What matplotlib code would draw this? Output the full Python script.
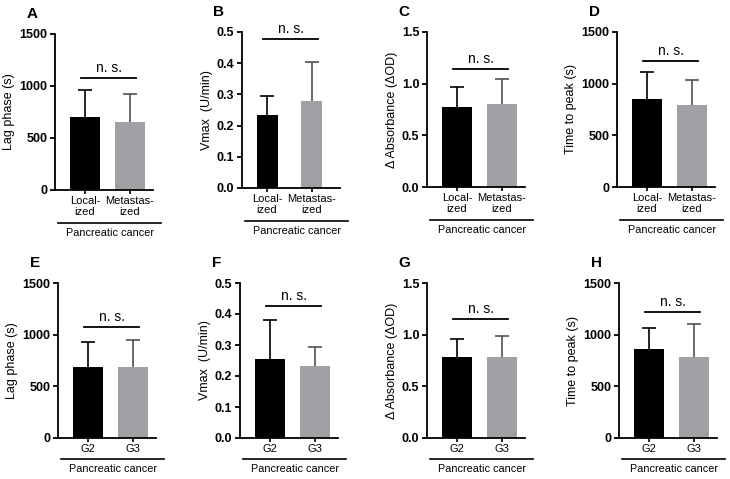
import matplotlib
matplotlib.use("Agg")
import matplotlib.pyplot as plt
from matplotlib.ticker import FormatStrFormatter

plt.rcParams['font.family'] = ['Liberation Sans', 'DejaVu Sans']

# data
letters = ["A", "B", "C", "D", "E", "F", "G", "H"]
ylabels = ["Lag phase (s)", "Vmax  (U/min)", "\u0394 Absorbance (\u0394OD)", "Time to peak (s)"] * 2
groups_top = ["Local-\nized", "Metastas-\nized"]
groups_bot = ["G2", "G3"]
group_title = "Pancreatic cancer"

means = [
    [700, 655], [0.233, 0.278], [0.77, 0.80], [854, 793],
    [687, 684], [0.256, 0.232], [0.787, 0.785], [861, 781],
]
errs = [
    [265, 270], [0.062, 0.125], [0.195, 0.245], [256, 242],
    [244, 264], [0.125, 0.061], [0.167, 0.198], [202, 321],
]
ymax = [1500, 0.5, 1.5, 1500] * 2
ystep = [500, 0.1, 0.5, 500] * 2
yfmt = ["%d", "%.1f", "%.1f", "%d"] * 2
sig_y = [1077, 0.477, 1.142, 1219, 1076, 0.426, 1.147, 1220]

colors = ["black", "#a0a0a4"]
err_colors = ["black", "#505050"]

W, H = 730, 479
fig = plt.figure(figsize=(7.3, 4.79), dpi=100)

# axes placement in pixels: y-axis x, top, bottom
lefts = [55, 242, 427, 617, 58, 240, 427, 619]
tops = [34, 32, 32, 32, 283, 283, 283, 283]
bottoms = [190, 188, 187, 187, 438, 438, 438, 438]
axis_len = 98
spacing = 44.5

for i in range(8):
    l, t, b = lefts[i], tops[i], bottoms[i]
    ax = fig.add_axes([l / W, 1 - b / H, axis_len / W, (b - t) / H])
    offset = 25 if i == 1 else 30
    width = 21 / spacing if i == 1 else 30 / spacing
    ax.set_xlim(-offset / spacing, (axis_len - offset) / spacing)
    ax.set_ylim(0, ymax[i])

    for j in range(2):
        ax.bar(j, means[i][j], width=width, color=colors[j], zorder=2)
        eb = ax.errorbar(j, means[i][j], yerr=[[0], [errs[i][j]]], color=err_colors[j],
                         capsize=5, elinewidth=1.2, capthick=1.2, zorder=1)
        eb[1][0].set_visible(False)  # no lower cap

    # significance bar
    ax.plot([-0.08, 1.15], [sig_y[i], sig_y[i]], color="black", lw=1.3, clip_on=False)
    ax.text(0.53, sig_y[i] + ymax[i] * 0.02, "n. s.", ha="center", va="bottom", fontsize=10)

    for s in ["top", "right"]:
        ax.spines[s].set_visible(False)
    for s in ["left", "bottom"]:
        ax.spines[s].set_linewidth(1.3)

    ax.set_yticks([k * ystep[i] for k in range(int(round(ymax[i] / ystep[i])) + 1)])
    ax.yaxis.set_major_formatter(FormatStrFormatter(yfmt[i]))
    ax.tick_params(axis="y", length=3.5, width=1.3, labelsize=9, pad=2)
    for lab in ax.get_yticklabels():
        lab.set_fontweight("bold")
    ax.set_xticks([0, 1])
    ax.set_xticklabels(groups_top if i < 4 else groups_bot, fontsize=8, linespacing=1.05)
    ax.tick_params(axis="x", length=3, width=1.2, pad=1.5)
    ax.set_ylabel(ylabels[i], fontsize=9, labelpad=3)

    # group line + title under axis
    h = b - t
    gl = -33 / h if i < 4 else -21 / h
    ax.plot([0.03, 1.08], [gl, gl], transform=ax.transAxes, color="black", lw=1.2, clip_on=False)
    ax.text(0.56, gl - 10 / h, group_title, transform=ax.transAxes, ha="center", va="center", fontsize=7.8)

    fig.text((l - 23) / W, 1 - (t - 20) / H, letters[i], fontsize=11, fontweight="bold",
             ha="center", va="center")

fig.savefig("out.png", dpi=100)
